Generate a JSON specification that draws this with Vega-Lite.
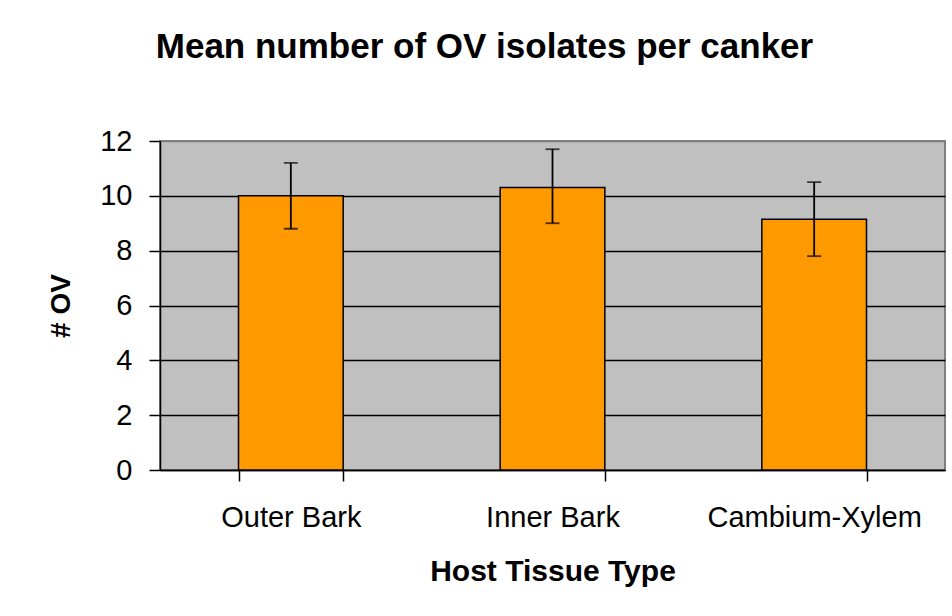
{
  "$schema": "https://vega.github.io/schema/vega-lite/v6.json",
  "width": 785,
  "height": 329,
  "autosize": {"type": "none"},
  "padding": {"left": 160, "top": 141, "right": 7, "bottom": 146},
  "background": "white",
  "title": {
    "text": "Mean number of OV isolates per canker",
    "font": "Liberation Sans",
    "fontSize": 35,
    "fontWeight": "bold",
    "color": "black",
    "anchor": "middle",
    "frame": "group",
    "dx": -68,
    "baseline": "alphabetic",
    "offset": 34
  },
  "data": {
    "values": [
      {"tissue": "Outer Bark", "mean": 10.0, "lower": 8.8, "upper": 11.2},
      {"tissue": "Inner Bark", "mean": 10.3, "lower": 9.0, "upper": 11.7},
      {"tissue": "Cambium-Xylem", "mean": 9.15, "lower": 7.8, "upper": 10.5}
    ]
  },
  "encoding": {
    "x": {
      "field": "tissue",
      "type": "nominal",
      "sort": null,
      "scale": {"paddingInner": 0.6, "paddingOuter": 0.3},
      "axis": {
        "title": "Host Tissue Type",
        "labelAngle": 0,
        "labelLimit": 0,
        "tickBand": "extent",
        "tickSize": 11,
        "tickColor": "black",
        "tickWidth": 1.5,
        "domainColor": "black",
        "domainWidth": 1.5,
        "labelPadding": 22,
        "labelFont": "Liberation Sans",
        "labelFontSize": 29,
        "labelColor": "black",
        "titleFont": "Liberation Sans",
        "titleFontSize": 30,
        "titleFontWeight": "bold",
        "titleColor": "black",
        "titlePadding": 24,
        "grid": false
      }
    }
  },
  "layer": [
    {
      "mark": {"type": "bar", "color": "#FF9900", "stroke": "black", "strokeWidth": 1.5},
      "encoding": {
        "y": {
          "field": "mean",
          "type": "quantitative",
          "scale": {"domain": [0, 12], "nice": false},
          "axis": {
            "title": "# OV",
            "values": [0, 2, 4, 6, 8, 10, 12],
            "tickSize": 11,
            "tickColor": "black",
            "tickWidth": 1.5,
            "domainColor": "black",
            "domainWidth": 1.5,
            "grid": true,
            "gridColor": {"condition": {"test": "datum.value === 12", "value": "#808080"}, "value": "black"},
            "gridWidth": 1.5,
            "labelPadding": 17,
            "labelFont": "Liberation Sans",
            "labelFontSize": 29,
            "labelColor": "black",
            "titleFont": "Liberation Sans",
            "titleFontSize": 28,
            "titleFontWeight": "bold",
            "titleColor": "black",
            "titlePadding": 24
          }
        }
      }
    },
    {
      "mark": {"type": "rule", "color": "black", "strokeWidth": 1.8},
      "encoding": {
        "y": {"field": "lower", "type": "quantitative"},
        "y2": {"field": "upper"}
      }
    },
    {
      "mark": {"type": "tick", "color": "black", "size": 14, "thickness": 1.8},
      "encoding": {"y": {"field": "lower", "type": "quantitative"}}
    },
    {
      "mark": {"type": "tick", "color": "black", "size": 14, "thickness": 1.8},
      "encoding": {"y": {"field": "upper", "type": "quantitative"}}
    }
  ],
  "config": {
    "view": {"fill": "#C0C0C0", "stroke": "#808080", "strokeWidth": 2},
    "tick": {"bandSize": 14}
  }
}
